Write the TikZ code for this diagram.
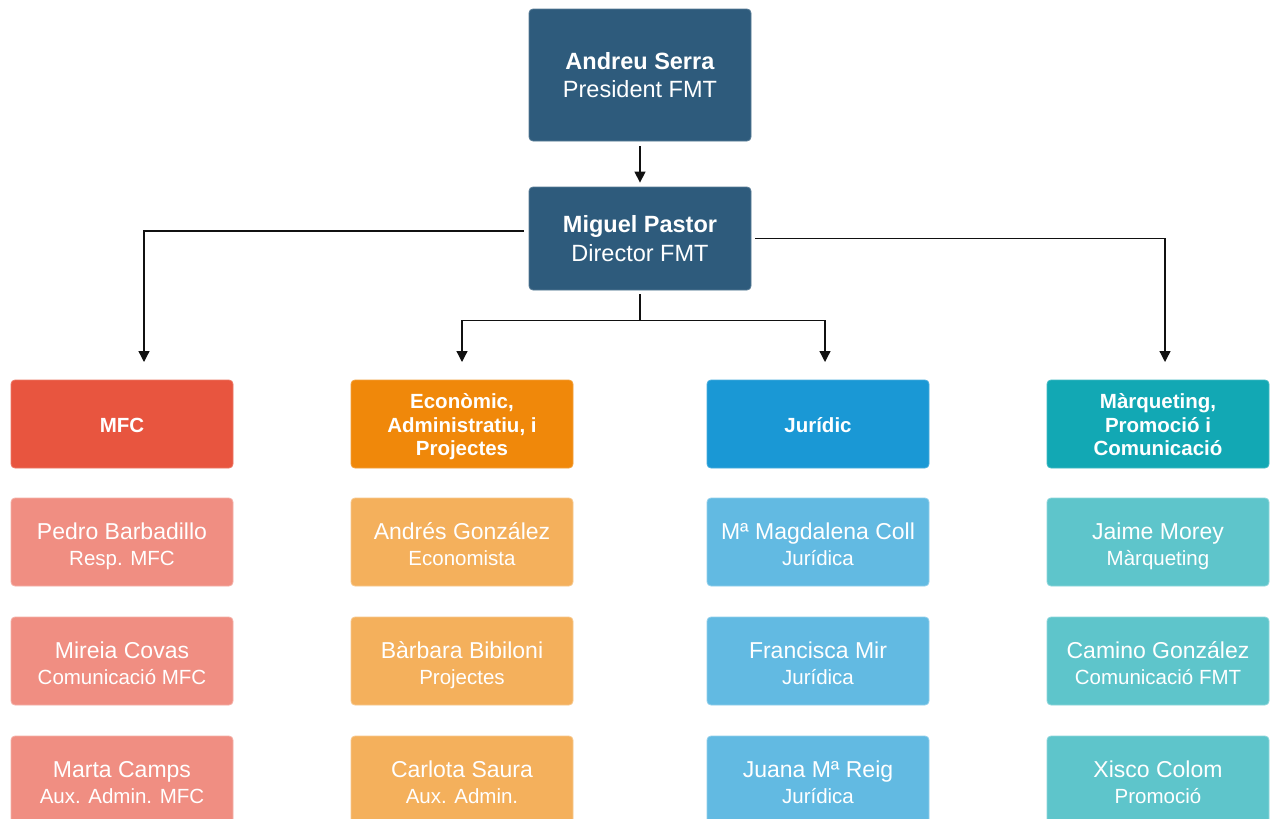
\documentclass[tikz,border=0pt]{standalone}
\usepackage{fontspec}
\setmainfont{Liberation Sans}
\usetikzlibrary{arrows.meta}
\definecolor{topblue}{HTML}{2E5B7C}
\definecolor{cRed}{HTML}{E8553F}
\definecolor{lRed}{HTML}{F08E82}
\definecolor{cOrange}{HTML}{F0880A}
\definecolor{lOrange}{HTML}{F4B05C}
\definecolor{cBlue}{HTML}{1A98D5}
\definecolor{lBlue}{HTML}{62BAE2}
\definecolor{cTeal}{HTML}{12A8B4}
\definecolor{lTeal}{HTML}{5EC5CB}
\definecolor{lineC}{HTML}{111111}
\tikzset{
  box/.style={rounded corners=4pt, minimum width=222pt, inner sep=0pt, text=white, align=center},
  topbox/.style={box, fill=topblue, draw=topblue!80!white, line width=0.8pt, font=\fontsize{23.5}{28.5}\selectfont},
  headbox/.style={box, minimum height=88pt, font=\fontsize{20.5}{23.5}\selectfont\bfseries, line width=0.8pt},
  personbox/.style={box, minimum height=88pt, line width=0.8pt, font=\fontsize{20.5}{26}\selectfont},
  arr/.style={draw=lineC, line width=1.3pt, -{Triangle[length=11pt,width=11pt]}}
}
\newcommand{\pers}[2]{{\fontsize{23}{26}\selectfont\rule{0pt}{24.5pt}#1}\\\rule[-4.5pt]{0pt}{4.5pt}#2}
\newcommand{\hfirst}{\rule{0pt}{21pt}}
\newcommand{\hlast}{\rule[-5pt]{0pt}{5pt}}
\begin{document}
\begin{tikzpicture}[x=1pt,y=-1pt]
\useasboundingbox[fill=white] (0,0) rectangle (1274,819);
% top
\node[topbox, minimum height=132pt] (andreu) at (640,75) {\textbf{Andreu Serra}\\President FMT};
\node[topbox, minimum height=103pt] (miguel) at (640,238.5) {\textbf{Miguel Pastor}\\Director FMT};
% headers
\node[headbox, fill=cRed, draw=cRed!80!white] (mfc) at (122,424) {\hfirst MFC\hlast};
\node[headbox, fill=cOrange, draw=cOrange!80!white] (eco) at (462,424) {\hfirst Econòmic,\\Administratiu, i\\\hlast Projectes};
\node[headbox, fill=cBlue, draw=cBlue!80!white] (jur) at (818,424) {\hfirst Jurídic\hlast};
\node[headbox, fill=cTeal, draw=cTeal!80!white] (mar) at (1158,424) {\hfirst Màrqueting,\\Promoció i\\\hlast Comunicació};
% persons
\node[personbox, fill=lRed, draw=lRed!70!white] (p11) at (122,542) {\pers{Pedro Barbadillo}{Resp. MFC}};
\node[personbox, fill=lRed, draw=lRed!70!white] (p12) at (122,661) {\pers{Mireia Covas}{Comunicació MFC}};
\node[personbox, fill=lRed, draw=lRed!70!white] (p13) at (122,780) {\pers{Marta Camps}{Aux. Admin. MFC}};
\node[personbox, fill=lOrange, draw=lOrange!70!white] (p21) at (462,542) {\pers{Andrés González}{Economista}};
\node[personbox, fill=lOrange, draw=lOrange!70!white] (p22) at (462,661) {\pers{Bàrbara Bibiloni}{Projectes}};
\node[personbox, fill=lOrange, draw=lOrange!70!white] (p23) at (462,780) {\pers{Carlota Saura}{Aux. Admin.}};
\node[personbox, fill=lBlue, draw=lBlue!70!white] (p31) at (818,542) {\pers{Mª Magdalena Coll}{Jurídica}};
\node[personbox, fill=lBlue, draw=lBlue!70!white] (p32) at (818,661) {\pers{Francisca Mir}{Jurídica}};
\node[personbox, fill=lBlue, draw=lBlue!70!white] (p33) at (818,780) {\pers{Juana Mª Reig}{Jurídica}};
\node[personbox, fill=lTeal, draw=lTeal!70!white] (p41) at (1158,542) {\pers{Jaime Morey}{Màrqueting}};
\node[personbox, fill=lTeal, draw=lTeal!70!white] (p42) at (1158,661) {\pers{Camino González}{Comunicació FMT}};
\node[personbox, fill=lTeal, draw=lTeal!70!white] (p43) at (1158,780) {\pers{Xisco Colom}{Promoció}};
% arrow end points
\coordinate (aM) at (144,362);
\coordinate (aE) at (462,362);
\coordinate (aJ) at (825,362);
\coordinate (aK) at (1165,362);
% connectors
\draw[arr, shorten <=5pt, shorten >=4pt] (andreu) -- (miguel);
\draw[arr] ([xshift=-5pt,yshift=7.5pt]miguel.west) -| (aM);
\draw[arr] ([xshift=4pt]miguel.east) -| (aK);
\draw[arr] ([yshift=-4pt]miguel.south) -- ++(0,26) -| (aE);
\draw[arr] ([yshift=-4pt]miguel.south) -- ++(0,26) -| (aJ);
\end{tikzpicture}
\end{document}
